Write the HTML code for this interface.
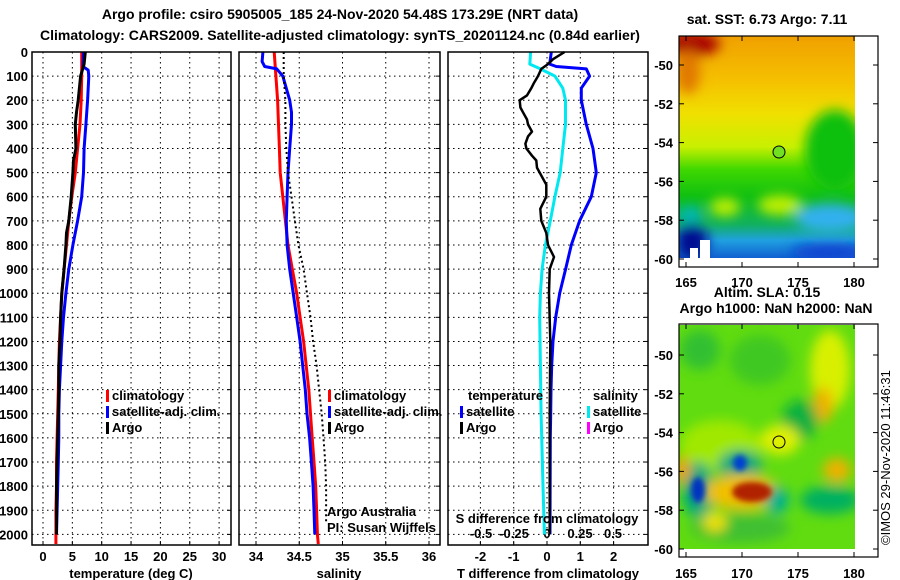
<!DOCTYPE html>
<html><head><meta charset="utf-8">
<style>
body{margin:0;background:#fff;}
svg{display:block;font-family:"Liberation Sans",sans-serif;}
.t{font-weight:bold;font-size:13px;fill:#000;}
.h{font-weight:bold;font-size:14px;fill:#000;}
</style></head><body>
<svg id="c" width="900" height="580" viewBox="0 0 900 580">
<defs>
<filter id="bl" x="-50%" y="-50%" width="200%" height="200%"><feGaussianBlur stdDeviation="6"/></filter>
<filter id="bl2" x="-50%" y="-50%" width="200%" height="200%"><feGaussianBlur stdDeviation="3"/></filter>
<linearGradient id="sst" x1="0" y1="0" x2="0" y2="1">
<stop offset="0" stop-color="#f0a000"/><stop offset="0.2" stop-color="#f5c000"/>
<stop offset="0.35" stop-color="#f0e000"/><stop offset="0.5" stop-color="#c8f000"/>
<stop offset="0.6" stop-color="#40d800"/><stop offset="0.72" stop-color="#10c010"/>
<stop offset="0.85" stop-color="#10b060"/><stop offset="0.92" stop-color="#20a0e0"/>
<stop offset="1" stop-color="#1060d0"/></linearGradient>
<clipPath id="m1"><rect x="679" y="36" width="176" height="222"/></clipPath>
<clipPath id="m2"><rect x="679" y="325" width="176" height="224"/></clipPath>
</defs>
<text class="h" x="340" y="19" text-anchor="middle">Argo profile: csiro 5905005_185 24-Nov-2020 54.48S 173.29E (NRT data)</text>
<text class="h" x="340" y="40" text-anchor="middle">Climatology: CARS2009. Satellite-adjusted climatology: synTS_20201124.nc (0.84d earlier)</text>
<g id="panels"></g>

<!-- map 1 -->
<g>
<text class="h" x="767" y="24" text-anchor="middle" font-size="13">sat. SST: 6.73 Argo: 7.11</text>
<g clip-path="url(#m1)">
<rect x="679" y="36" width="176" height="222" fill="url(#sst)"/>
<g filter="url(#bl)">
<ellipse cx="692" cy="44" rx="28" ry="12" fill="#a80000"/>
<ellipse cx="688" cy="72" rx="12" ry="22" fill="#e07800"/>
<ellipse cx="835" cy="150" rx="30" ry="40" fill="#10c010"/>
<ellipse cx="780" cy="205" rx="22" ry="10" fill="#c0f000"/>
<ellipse cx="725" cy="207" rx="15" ry="9" fill="#c0f000"/>
<ellipse cx="830" cy="218" rx="35" ry="14" fill="#30b0f0"/>
<ellipse cx="692" cy="242" rx="16" ry="18" fill="#001090"/>
<ellipse cx="830" cy="252" rx="40" ry="8" fill="#1040d0"/>
<ellipse cx="690" cy="215" rx="12" ry="8" fill="#00b8c0"/>
</g>
<rect x="700" y="240" width="10" height="18" fill="#fff"/>
<rect x="690" y="248" width="8" height="10" fill="#fff"/>
</g>
<circle cx="779" cy="152" r="6" fill="#70e020" stroke="#000" stroke-width="1"/>
<rect x="679" y="36" width="199" height="231" fill="none" stroke="#000" stroke-width="1.2"/>
<g id="map1axes"></g>
</g>

<!-- map 2 -->
<g>
<text class="h" x="767" y="297" text-anchor="middle" font-size="13">Altim. SLA: 0.15</text>
<text class="h" x="776" y="313" text-anchor="middle" font-size="13">Argo h1000: NaN h2000: NaN</text>
<g clip-path="url(#m2)">
<rect x="679" y="325" width="176" height="224" fill="#60dc10"/>
<g filter="url(#bl)">
<ellipse cx="700" cy="350" rx="20" ry="20" fill="#30c030"/>
<ellipse cx="760" cy="360" rx="30" ry="25" fill="#40c820"/>
<ellipse cx="830" cy="370" rx="20" ry="40" fill="#d8f000"/>
<ellipse cx="823" cy="405" rx="10" ry="18" fill="#f0b000"/>
<ellipse cx="800" cy="420" rx="18" ry="20" fill="#10b040"/>
<ellipse cx="720" cy="445" rx="40" ry="25" fill="#a0e800"/>
<ellipse cx="780" cy="440" rx="20" ry="15" fill="#e0f000"/>
<ellipse cx="740" cy="465" rx="22" ry="15" fill="#00a880"/>
<ellipse cx="698" cy="490" rx="16" ry="28" fill="#00a880"/>
<ellipse cx="742" cy="492" rx="38" ry="18" fill="#f0c000"/>
<ellipse cx="837" cy="470" rx="14" ry="12" fill="#f0b000"/>
<ellipse cx="682" cy="470" rx="8" ry="14" fill="#f0a000"/>
<ellipse cx="830" cy="500" rx="30" ry="14" fill="#00b060"/>
<ellipse cx="777" cy="500" rx="12" ry="14" fill="#00b090"/>
<ellipse cx="740" cy="528" rx="50" ry="15" fill="#40c030"/>
<ellipse cx="715" cy="522" rx="12" ry="10" fill="#f0e000"/>
</g>
<g filter="url(#bl2)">
<ellipse cx="698" cy="490" rx="7" ry="13" fill="#0030c0"/>
<ellipse cx="740" cy="463" rx="7" ry="8" fill="#0040d0"/>
<ellipse cx="752" cy="492" rx="20" ry="10" fill="#b02000"/>
</g>
</g>
<circle cx="779" cy="442" r="6" fill="none" stroke="#000" stroke-width="1"/>
<rect x="679" y="324" width="199" height="233" fill="none" stroke="#000" stroke-width="1.2"/>
<g id="map2axes"></g>
<text x="890" y="545" transform="rotate(-90 890 545)" font-size="13">©IMOS 29-Nov-2020 11:46:31</text>
</g>
</svg>
<script>
// ---- data ----
const tArgoDepth=[0,50,100,200,250,300,400,450,500,600,700,750,800,900,1000,1100,1200,1300,1400,1500,1600,1700,1800,1900,2000];
const tArgo=[7.2,7.0,6.4,6.0,5.7,5.5,5.6,5.2,5.1,4.8,4.4,4.0,3.9,3.6,3.2,3.0,2.9,2.7,2.7,2.6,2.5,2.4,2.3,2.3,2.3];
const climDepth=[0,100,200,300,400,500,600,700,800,900,1000,1100,1200,1300,1400,1500,1600,1700,1800,1900,2000,2040];
const tClim=[6.6,6.6,6.5,6.3,5.9,5.5,4.9,4.4,4.0,3.6,3.2,3.0,2.8,2.7,2.6,2.5,2.4,2.3,2.3,2.2,2.2,2.2];
const tSatDepth=[0,60,75,100,200,300,400,500,600,700,800,900,1000,1100,1200,1300,1400,1500,1600,1700,1800,1900,2000];
const tSat=[6.9,6.8,7.7,7.8,7.6,7.3,7.0,6.9,6.6,5.9,5.1,4.4,3.9,3.5,3.2,3.0,2.8,2.7,2.7,2.6,2.5,2.4,2.3];
const sClim=[34.21,34.23,34.25,34.26,34.27,34.28,34.31,34.34,34.37,34.42,34.47,34.51,34.55,34.58,34.61,34.63,34.65,34.67,34.69,34.70,34.71,34.72];
const sSatDepth=[0,40,60,70,100,200,250,300,400,500,600,700,800,900,1000,1100,1200,1300,1400,1500,1600,1700,1800,1900,2000];
const sSat=[34.08,34.07,34.10,34.24,34.31,34.39,34.41,34.41,34.39,34.37,34.36,34.35,34.36,34.39,34.43,34.47,34.51,34.54,34.57,34.59,34.62,34.64,34.66,34.67,34.68];
const sArgoDepth=[0,100,200,300,400,500,600,700,800,900,1000,1100,1200,1300,1400,1500,1600,1700,1800,1950];
const sArgo=[34.32,34.32,34.34,34.34,34.35,34.37,34.41,34.45,34.49,34.55,34.59,34.63,34.66,34.70,34.73,34.76,34.78,34.80,34.81,34.81];
const dTArgoDepth=[0,30,50,70,100,130,150,180,200,230,250,280,300,330,350,380,400,430,450,480,500,550,600,650,700,750,800,850,900,1000,1200,1500,2000];
const dTArgo=[0.53,0.18,0.03,-0.17,-0.27,-0.4,-0.47,-0.6,-0.82,-0.8,-0.72,-0.6,-0.57,-0.45,-0.57,-0.65,-0.62,-0.45,-0.32,-0.3,-0.22,-0.02,-0.02,-0.2,-0.17,-0.02,0.03,0.21,0.08,0.06,0.10,0.08,0.08];
const dTSatDepth=[0,50,60,70,100,150,200,300,400,500,600,700,800,900,1000,1100,1200,1300,1400,1500,1600,2000];
const dTSat=[0.13,0.08,0.28,1.18,1.28,1.03,1.03,1.18,1.38,1.48,1.33,0.98,0.73,0.56,0.38,0.26,0.18,0.14,0.12,0.11,0.10,0.09];
const dSSatDepth=[0,50,70,100,150,200,300,400,500,600,700,800,900,1000,1100,1300,1500,1800,2000];
const dSSat=[-0.124,-0.13,-0.05,0.06,0.12,0.14,0.14,0.12,0.10,0.06,0.025,-0.012,-0.037,-0.05,-0.055,-0.05,-0.045,-0.03,-0.02];
const depthTicks=[0,100,200,300,400,500,600,700,800,900,1000,1100,1200,1300,1400,1500,1600,1700,1800,1900,2000];
const tTicks=[0,5,10,15,20,25,30];
const sTicks=[34,34.5,35,35.5,36];
const sTickLabels=["34","34.5","35","35.5","36"];
const dTTicks=[-2,-1,0,1,2];
const dSTicks=[-0.5,-0.25,0,0.25,0.5];
const latTicks=[-50,-52,-54,-56,-58,-60];
const lonTicks=[165,170,175,180];

// ---- axes ----
const yD=d=>52+d*0.2412;
const xT=v=>43+v*5.87;
const xS=v=>256+(v-34)*86.5;
const xDT=v=>547+v*33.3;
const xDS=v=>547+v*132;
const NS='http://www.w3.org/2000/svg';
const P=document.getElementById('panels');
function mk(tag,at,parent){const e=document.createElementNS(NS,tag);for(const k in at)e.setAttribute(k,at[k]);(parent||P).appendChild(e);return e;}
function txt(x,y,s,cls,anchor,parent){const e=mk('text',{x:x,y:y,class:cls||'t','text-anchor':anchor||'middle'},parent);e.textContent=s;return e;}

const panels=[{x0:32,x1:231,name:'temperature-panel'},{x0:239,x1:440,name:'salinity-panel'},{x0:448,x1:648,name:'difference-panel'}];
const yBot=545;
panels.forEach((p,i)=>{
  const g=mk('g',{});
  
  
  p.g=g;
  depthTicks.forEach(d=>{
    const l=mk('line',{x1:p.x0,x2:p.x1,y1:yD(d),y2:yD(d),stroke:'#000','stroke-width':1,'stroke-dasharray':'1.5 3.5'},g);
    
    
    mk('line',{x1:p.x1-4,x2:p.x1,y1:yD(d),y2:yD(d),stroke:'#000'},g);
    if(i===0){const t=txt(28,yD(d)+5,String(d),'t','end',g);
      
      }
  });
});
function vgrid(p,ticks,fx,labels,ly){
  ticks.forEach((v,k)=>{
    const l=mk('line',{x1:fx(v),x2:fx(v),y1:52,y2:yBot,stroke:'#000','stroke-width':1,'stroke-dasharray':'1.5 3.5'},p.g);
    
    
    mk('line',{x1:fx(v),x2:fx(v),y1:yBot-4,y2:yBot,stroke:'#000'},p.g);
    if(labels){const t=txt(fx(v),ly,labels[k],'t','middle',p.g);
      
      }
  });
}
vgrid(panels[0],tTicks,xT,tTicks.map(String),561);
vgrid(panels[1],sTicks,xS,sTickLabels,561);
vgrid(panels[2],dTTicks,xDT,dTTicks.map(String),561);
dSTicks.forEach(v=>{const t=txt(xDS(v),538,String(v),'t','middle',panels[2].g);
  
  });

function line(p,xs,ds,fx,color,w,name,dash){
  const pts=xs.map((v,k)=>fx(v).toFixed(1)+','+yD(ds[k]).toFixed(1)).join(' ');
  const at={points:pts,fill:'none',stroke:color,'stroke-width':w,'stroke-linejoin':'round'};
  if(dash)at['stroke-dasharray']=dash;
  const e=mk('polyline',at,p.g);
  
  
}
line(panels[0],tClim,climDepth,xT,'#ff0000',3,'temp-climatology-line');
line(panels[0],tSat,tSatDepth,xT,'#0000ff',3,'temp-satellite-line');
line(panels[0],tArgo,tArgoDepth,xT,'#000',3,'temp-argo-line');
line(panels[1],sClim,climDepth,xS,'#ff0000',3,'sal-climatology-line');
line(panels[1],sSat,sSatDepth,xS,'#0000ff',3,'sal-satellite-line');
line(panels[1],sArgo,sArgoDepth,xS,'#000',2,'sal-argo-line','2 3');
line(panels[2],dSSat,dSSatDepth,xDS,'#00e8f0',3,'sdiff-satellite-line');
line(panels[2],dTSat,dTSatDepth,xDT,'#0000ff',3,'tdiff-satellite-line');
line(panels[2],dTArgo,dTArgoDepth,xDT,'#000',2.5,'tdiff-argo-line');

panels.forEach(p=>{mk('rect',{x:p.x0,y:52,width:p.x1-p.x0,height:yBot-52,fill:'none',stroke:'#000','stroke-width':1.5},p.g);});

function legend(p,x,items,y0){
  items.forEach((it,k)=>{
    const y=y0+k*16;
    const g=mk('g',{},p.g);
    
    
    mk('rect',{x:x,y:y-10,width:3,height:12,fill:it[1]},g);
    txt(x+6,y,it[0],'t','start',g);
  });
}
legend(panels[0],106,[['climatology','#ff0000'],['satellite-adj. clim.','#0000ff'],['Argo','#000']],400);
legend(panels[1],328,[['climatology','#ff0000'],['satellite-adj. clim.','#0000ff'],['Argo','#000']],400);
txt(468,400,'temperature','t','start',panels[2].g);
txt(593,400,'salinity','t','start',panels[2].g);
legend(panels[2],460,[['satellite','#0000ff'],['Argo','#000']],416);
legend(panels[2],587,[['satellite','#00e8f0'],['Argo','#ff00ff']],416);
txt(547,523,'S difference from climatology','t','middle',panels[2].g);
const a1=txt(327,516,'Argo Australia','','start',panels[1].g);a1.setAttribute('font-size','12');
const a2=txt(327,532,'PI: Susan Wijffels','','start',panels[1].g);a2.setAttribute('font-size','12');
txt(131,578,'temperature (deg C)','t','middle',panels[0].g);
txt(339,578,'salinity','t','middle',panels[1].g);
txt(548,578,'T difference from climatology','t','middle',panels[2].g);

// map axes
function mapAxes(id,latY0){
  const g=document.getElementById(id);
  latTicks.forEach(v=>{const y=latY0+(-50-v)*19.4;
    mk('line',{x1:679,x2:684,y1:y,y2:y,stroke:'#000'},g);
    mk('line',{x1:873,x2:878,y1:y,y2:y,stroke:'#000'},g);
    const t=txt(673,y+5,String(v),'t','end',g);
    
    });
  const yb=id==='map1axes'?267:557, yl=id==='map1axes'?287:578;
  const yt=id==='map1axes'?36:324;
  lonTicks.forEach(v=>{const x=686+(v-165)*11.2;
    mk('line',{x1:x,x2:x,y1:yb-5,y2:yb,stroke:'#000'},g);
    mk('line',{x1:x,x2:x,y1:yt,y2:yt+5,stroke:'#000'},g);
    const t=txt(x,yl,String(v),'t','middle',g);
    
    });
}
mapAxes('map1axes',65);
mapAxes('map2axes',355);
</script>
</body></html>
